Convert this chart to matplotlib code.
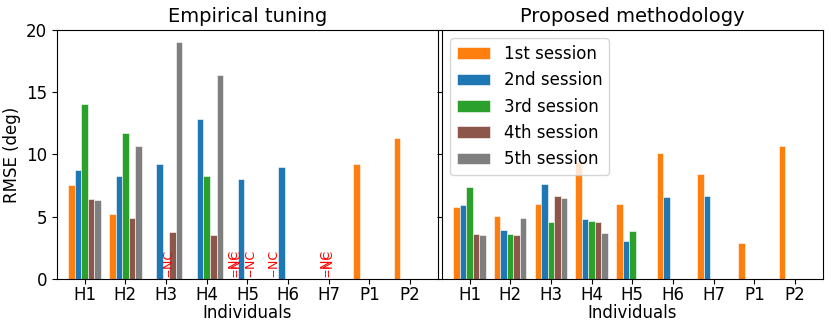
import numpy as np
import matplotlib
matplotlib.use('Agg')
import matplotlib.pyplot as plt

individuals = ['H1', 'H2', 'H3', 'H4', 'H5', 'H6', 'H7', 'P1', 'P2']
sessions = ['1st session', '2nd session', '3rd session', '4th session', '5th session']
colors = ['tab:orange', 'tab:blue', 'tab:green', 'tab:brown', 'tab:gray']

# empirical tuning, RMSE (deg), 0 = no bar
emp_s1 = [7.5, 5.2, 0, 0, 0, 0, 0, 9.2, 11.3]
emp_s2 = [8.75, 8.25, 9.2, 12.85, 8.0, 9.0, 0, 0, 0]
emp_s3 = [14.05, 11.75, 0, 8.25, 0, 0, 0, 0, 0]
emp_s4 = [6.4, 4.85, 3.75, 3.5, 0, 0, 0, 0, 0]
emp_s5 = [6.35, 10.7, 19.05, 16.4, 0, 0, 0, 0, 0]

# proposed methodology
prop_s1 = [5.8, 5.05, 6.0, 9.4, 6.0, 10.1, 8.4, 2.9, 10.7]
prop_s2 = [5.9, 3.9, 7.6, 4.8, 3.0, 6.55, 6.65, 0, 0]
prop_s3 = [7.35, 3.6, 4.6, 4.65, 3.85, 0, 0, 0, 0]
prop_s4 = [3.6, 3.5, 6.65, 4.55, 0, 0, 0, 0, 0]
prop_s5 = [3.5, 4.85, 6.5, 3.7, 0, 0, 0, 0, 0]

# "not converged" markers on the empirical plot (x in group units)
nc_x = [2.08, 3.66, 3.74, 4.09, 4.64, 5.92, 6.0]

emp = [emp_s1, emp_s2, emp_s3, emp_s4, emp_s5]
prop = [prop_s1, prop_s2, prop_s3, prop_s4, prop_s5]

fig, (ax1, ax2) = plt.subplots(1, 2, sharey=True, figsize=(8.31, 3.31), dpi=100)
fig.subplots_adjust(left=0.0686, right=0.990, top=0.909, bottom=0.158, wspace=0.0105)

x = np.arange(len(individuals))
w = 0.16
for ax, data in ((ax1, emp), (ax2, prop)):
    for i, vals in enumerate(data):
        ax.bar(x + (i - 2) * w, vals, w, color=colors[i], label=sessions[i],
               edgecolor='white', linewidth=0.4)
    ax.set_xticks(x)
    ax.set_xticklabels(individuals, fontsize=12)
    ax.set_xlim(-0.68, 8.68)
    ax.set_xlabel('Individuals', fontsize=12, labelpad=0)
    ax.tick_params(labelsize=12)
    ax.tick_params(axis='x', pad=2)

for xx in nc_x:
    ax1.text(xx, 0.1, '--NC', rotation=90, ha='center', va='bottom',
             color='red', fontsize=9)

ax1.set_ylim(0, 20)
ax1.set_yticks([0, 5, 10, 15, 20])
ax1.set_ylabel('RMSE (deg)', fontsize=12)
ax1.set_title('Empirical tuning', fontsize=14)
ax2.set_title('Proposed methodology', fontsize=14)
ax2.legend(loc='upper left', fontsize=12, handlelength=2.0)

fig.savefig('out.png', dpi=100)
